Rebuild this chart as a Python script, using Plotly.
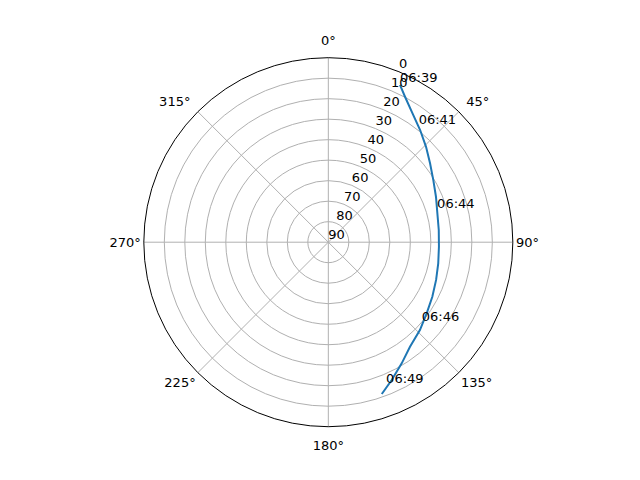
import plotly.graph_objects as go

# Track of the pass: azimuth (deg, clockwise from north) and elevation (deg)
track_az = [24.5, 27.8, 33.1, 39.3, 45.7, 52.2, 59.4, 67.1, 83.7, 92.3,
            100.9, 109.3, 117.7, 125.8, 133.8, 142.0, 148.8, 155.3, 160.6]
track_el = [5.7, 9.8, 14.9, 19.3, 23.4, 27.2, 30.5, 33.0, 35.8, 36.0,
            35.4, 34.3, 32.7, 30.8, 28.1, 25.3, 20.9, 16.0, 11.5]

# Time labels along the track
label_times = ["06:39", "06:41", "06:44", "06:46", "06:49"]
label_az = [24.5, 38.1, 74.0, 131.2, 158.2]
label_el = [5.7, 18.6, 34.8, 29.4, 14.1]

angle_ticks = [0, 45, 90, 135, 180, 225, 270, 315]
angle_ticktext = [f"{a}°" for a in angle_ticks]
# labels that plotly puts too close to the circle go on an outer overlay
outer_ticks = [0, 45, 180, 315]
elev_ticks = [0, 10, 20, 30, 40, 50, 60, 70, 80, 90]
elev_label_angle = 22.5

FONT = "DejaVu Sans"

fig = go.Figure()

fig.add_trace(go.Scatterpolar(
    r=track_el, theta=track_az,
    mode="lines",
    line=dict(color="#1f77b4", width=2),
    hoverinfo="skip",
))

fig.add_trace(go.Scatterpolar(
    r=label_el, theta=label_az,
    mode="text",
    text=label_times,
    textposition="top right",
    textfont=dict(family=FONT, size=13, color="black"),
    hoverinfo="skip",
))

# radial tick labels, matplotlib-style along the 22.5 deg line
fig.add_trace(go.Scatterpolar(
    r=elev_ticks, theta=[elev_label_angle] * len(elev_ticks),
    mode="text",
    text=[str(v) for v in elev_ticks],
    textposition="top right",
    textfont=dict(family=FONT, size=13, color="black"),
    hoverinfo="skip",
    cliponaxis=False,
))

# empty trace so the overlay polar gets drawn
fig.add_trace(go.Scatterpolar(
    r=elev_ticks, theta=[elev_label_angle] * len(elev_ticks),
    mode="none",
    hoverinfo="skip",
    subplot="polar2",
))

inner_text = ["" if a in outer_ticks else t for a, t in zip(angle_ticks, angle_ticktext)]
outer_text = [f"{a}°" for a in outer_ticks]

fig.update_layout(
    width=640, height=480,
    margin=dict(l=0, r=0, t=0, b=0),
    paper_bgcolor="white",
    showlegend=False,
    font=dict(family=FONT, size=13, color="black"),
    polar=dict(
        # page body adds 8px, domain is shifted to compensate
        domain=dict(x=[0.2122, 0.7888], y=[0.1277, 0.8965]),
        bgcolor="white",
        angularaxis=dict(
            rotation=90,
            direction="clockwise",
            tickmode="array",
            tickvals=angle_ticks,
            ticktext=inner_text,
            showline=True,
            linecolor="black",
            linewidth=1,
            gridcolor="#b0b0b0",
            gridwidth=1,
            ticks="",
            tickfont=dict(family=FONT, size=13, color="black"),
        ),
        radialaxis=dict(
            range=[90, 0],
            tickmode="array",
            tickvals=elev_ticks,
            showticklabels=False,
            showline=False,
            gridcolor="#b0b0b0",
            gridwidth=1,
            ticks="",
        ),
    ),
    polar2=dict(
        domain=dict(x=[0.1966, 0.8044], y=[0.1069, 0.9173]),
        bgcolor="rgba(0,0,0,0)",
        angularaxis=dict(
            rotation=90,
            direction="clockwise",
            tickmode="array",
            tickvals=outer_ticks,
            ticktext=outer_text,
            showline=False,
            showgrid=False,
            ticks="",
            tickfont=dict(family=FONT, size=13, color="black"),
        ),
        radialaxis=dict(
            range=[90, 0],
            visible=False,
        ),
    ),
)

fig.write_html("out.html")
